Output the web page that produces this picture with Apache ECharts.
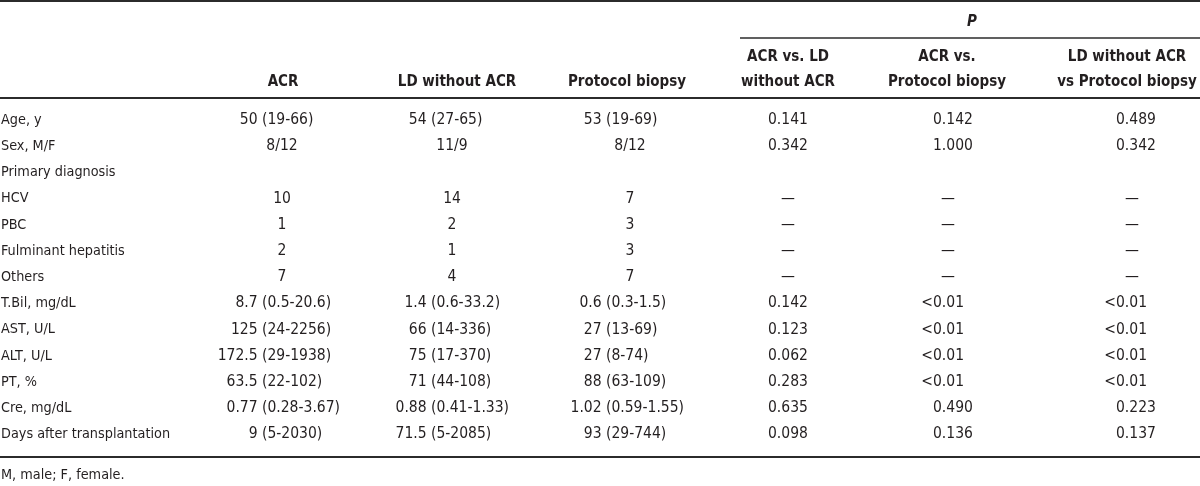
<!DOCTYPE html>
<html>
<head>
<meta charset="utf-8">
<script src="https://cdn.jsdelivr.net/npm/echarts@6/dist/echarts.min.js"></script>
<style>
html,body{margin:0;padding:0;background:#fff;}
#chart{width:1200px;height:486px;}
</style>
</head>
<body>
<div id="chart"></div>
<script>
// ---- table content ----
const rowLabels = ["Age, y", "Sex, M/F", "Primary diagnosis", "HCV", "PBC", "Fulminant hepatitis", "Others",
  "T.Bil, mg/dL", "AST, U/L", "ALT, U/L", "PT, %", "Cre, mg/dL", "Days after transplantation"];
const acr = ["50 (19-66)", "8/12", "", "10", "1", "2", "7", "8.7 (0.5-20.6)", "125 (24-2256)",
  "172.5 (29-1938)", "63.5 (22-102)", "0.77 (0.28-3.67)", "9 (5-2030)"];
const ldWithoutAcr = ["54 (27-65)", "11/9", "", "14", "2", "1", "4", "1.4 (0.6-33.2)", "66 (14-336)",
  "75 (17-370)", "71 (44-108)", "0.88 (0.41-1.33)", "71.5 (5-2085)"];
const protocolBiopsy = ["53 (19-69)", "8/12", "", "7", "3", "3", "7", "0.6 (0.3-1.5)", "27 (13-69)",
  "27 (8-74)", "88 (63-109)", "1.02 (0.59-1.55)", "93 (29-744)"];
const pAcrVsLd = ["0.141", "0.342", "", "\u2014", "\u2014", "\u2014", "\u2014", "0.142", "0.123",
  "0.062", "0.283", "0.635", "0.098"];
const pAcrVsProtocol = ["0.142", "1.000", "", "\u2014", "\u2014", "\u2014", "\u2014", "<0.01", "<0.01",
  "<0.01", "<0.01", "0.490", "0.136"];
const pLdVsProtocol = ["0.489", "0.342", "", "\u2014", "\u2014", "\u2014", "\u2014", "<0.01", "<0.01",
  "<0.01", "<0.01", "0.223", "0.137"];
const columnHeaders = [[""], ["ACR"], ["LD without ACR"], ["Protocol biopsy"],
  ["ACR vs. LD", "without ACR"], ["ACR vs.", "Protocol biopsy"], ["LD without ACR", "vs Protocol biopsy"]];
const groupHeader = "P";
const footnote = "M, male; F, female.";

// ---- layout / style (not data) ----
const FONT = "'Liberation Sans Narrow', 'DejaVu Sans Condensed', 'Arial Narrow', sans-serif";
const FS_LABEL = 14.3;
const FS_VALUE = 15.5;
const FS_HEAD = 15;
const TXT = "#231f20";
const LINE = "#2b2b2b";
const columns = [rowLabels, acr, ldWithoutAcr, protocolBiopsy, pAcrVsLd, pAcrVsProtocol, pLdVsProtocol];
const colLayout = [
  {mode: 'left', x: 1},
  {mode: 'paren', x: 262, c: 282},
  {mode: 'paren', x: 431, c: 452},
  {mode: 'paren', x: 606, c: 630},
  {mode: 'num', x: 768, c: 788},
  {mode: 'num', x: 933, c: 948},
  {mode: 'num', x: 1116, c: 1132}
];
const headerCenters = [0, 283, 457, 627, 788, 947, 1127];

const cells = [];
columns.forEach((col, ci) => col.forEach((t, ri) => { if (t !== "") cells.push([ci, ri]); }));

function txt(text, x, y, align, size, bold) {
  return {type: 'text', x: x, y: y, style: {text: text, fill: TXT,
    font: (bold ? 'bold ' : '') + size + 'px ' + FONT, align: align, verticalAlign: 'middle'}};
}

function renderItem(params, api) {
  const ci = api.value(0), ri = api.value(1);
  const text = columns[ci][ri];
  const lay = colLayout[ci];
  const y = api.coord([0, ri])[1];
  const children = [];
  const fs = FS_VALUE;
  if (lay.mode === 'left') {
    children.push(txt(text, api.coord([lay.x, ri])[0], y, 'left', FS_LABEL));
  } else if (lay.mode === 'paren') {
    const k = text.indexOf(' (');
    if (k >= 0) {
      const ax = api.coord([lay.x, ri])[0];
      children.push(txt(text.slice(0, k + 1), ax, y, 'right', fs));
      children.push(txt(text.slice(k + 1), ax, y, 'left', fs));
    } else {
      children.push(txt(text, api.coord([lay.c, ri])[0], y, 'center', fs));
    }
  } else {
    if (text === '\u2014') {
      children.push(txt(text, api.coord([lay.c, ri])[0], y, 'center', fs));
    } else if (text.charAt(0) === '<') {
      const ax = api.coord([lay.x, ri])[0];
      children.push(txt('<', ax, y, 'right', fs));
      children.push(txt(text.slice(1), ax, y, 'left', fs));
    } else {
      children.push(txt(text, api.coord([lay.x, ri])[0], y, 'left', fs));
    }
  }
  return {type: 'group', children: children};
}

const graphics = [];
function hline(x1, x2, y, w) {
  graphics.push({type: 'line', shape: {x1: x1, y1: y, x2: x2, y2: y}, style: {stroke: LINE, lineWidth: w}, silent: true});
}
hline(0, 1200, 1, 2);
hline(740, 1200, 38, 1.5);
hline(0, 1200, 98, 2);
hline(0, 1200, 457, 2);
graphics.push({type: 'text', x: 972, y: 22, style: {text: groupHeader, fill: TXT,
  font: 'italic bold ' + FS_HEAD + 'px ' + FONT, align: 'center', verticalAlign: 'middle'}});
columnHeaders.forEach((lines, ci) => {
  lines.forEach((t, li) => {
    if (!t) return;
    const y = lines.length === 2 ? (li === 0 ? 57 : 82) : 82;
    graphics.push(Object.assign(txt(t, headerCenters[ci], y, 'center', FS_HEAD, true), {silent: true}));
  });
});
graphics.push(txt(footnote, 1, 475, 'left', FS_LABEL));

const chart = echarts.init(document.getElementById('chart'), null, {renderer: 'canvas'});
chart.setOption({
  animation: false,
  backgroundColor: '#fff',
  grid: {left: 0, right: 0, top: 106.9, bottom: 38.5},
  xAxis: {type: 'value', min: 0, max: 1200, show: false},
  yAxis: {type: 'category', data: rowLabels, inverse: true, show: false},
  graphic: graphics,
  series: [{type: 'custom', data: cells, renderItem: renderItem, silent: true}]
});
</script>
</body>
</html>
